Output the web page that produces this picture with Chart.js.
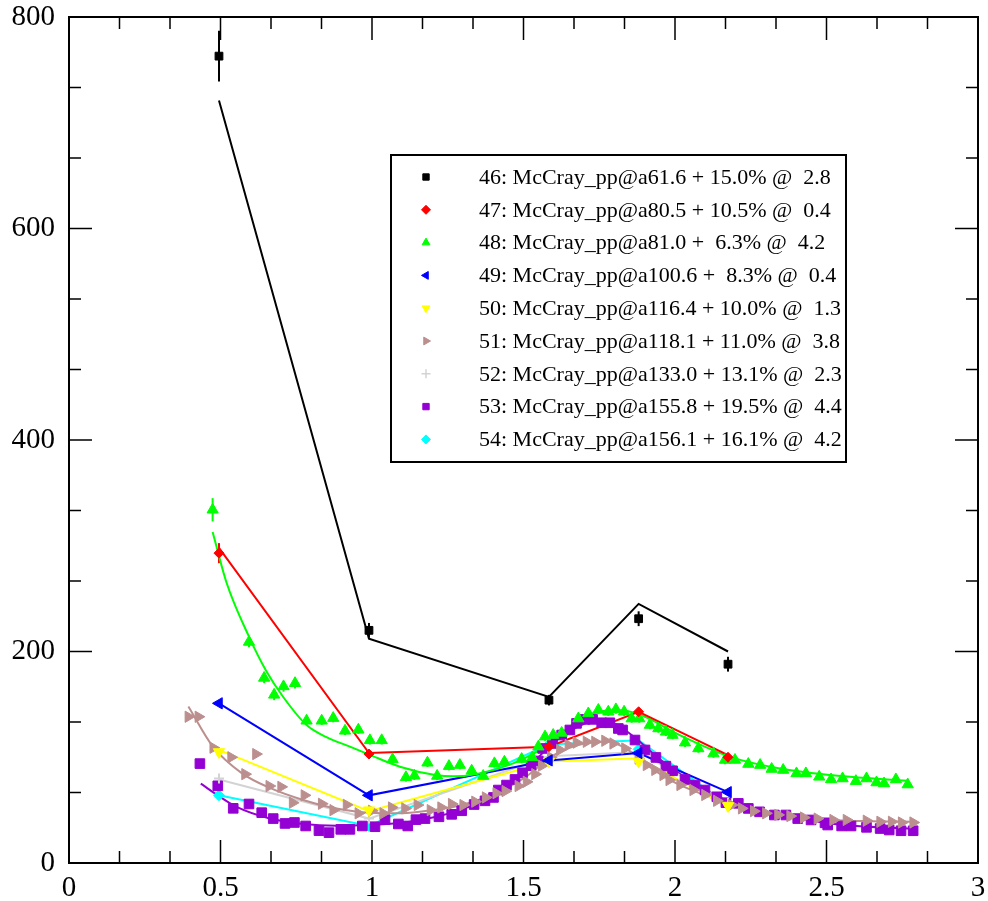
<!DOCTYPE html>
<html>
<head>
<meta charset="utf-8">
<title>McCray pp</title>
<script src="https://cdn.jsdelivr.net/npm/chart.js@4.4.1/dist/chart.umd.min.js"></script>
<style>
  html, body { margin: 0; padding: 0; background: #fff; }
  #wrap { width: 988px; height: 901px; }
</style>
</head>
<body>
<div id="wrap"><canvas id="chart" width="988" height="901"></canvas></div>
<script>
// coarse energy grid shared by the 5-point sets
const xCoarse = [0.495, 0.99, 1.584, 1.88, 2.175];

const s46Y = [763, 220, 154, 231, 188];
const s46Err = [24, 7, 5, 7, 7];
const s46Fit = [721, 212, 157, 245, 200];

const s47Y = [293, 103, 110, 143, 100];
const s47Err = [9.5, 3, 3, 3, 3];
const s47Fit = [298, 104, 110, 143, 102];

const s48X = [0.474, 0.594, 0.644, 0.677, 0.708, 0.746, 0.784, 0.834, 0.872, 0.911, 0.955, 0.993, 1.032, 1.068,
  1.112, 1.14, 1.183, 1.215, 1.254, 1.29, 1.329, 1.367, 1.404, 1.437, 1.494, 1.529, 1.549, 1.571, 1.598, 1.626,
  1.681, 1.714, 1.747, 1.78, 1.805, 1.832, 1.857, 1.882, 1.917, 1.945, 1.97, 1.992, 2.033, 2.077, 2.127, 2.165,
  2.198, 2.242, 2.281, 2.319, 2.357, 2.401, 2.432, 2.476, 2.515, 2.553, 2.597, 2.632, 2.665, 2.69, 2.729, 2.768];
const s48Y = [334, 209, 175, 159, 167, 170, 134.5, 134.5, 137, 125, 126, 116, 116, 98,
  81, 82.5, 94.8, 82.3, 91.6, 92.6, 87.2, 82.2, 94.2, 95.7, 98.3, 99.8, 110, 119.5, 121, 123,
  136.6, 141.4, 144.7, 143, 145.2, 143, 136.6, 136.6, 130.5, 127.2, 124, 121, 113.8, 108.3, 103.5, 97.4,
  97.4, 93.6, 92.6, 88.9, 87.9, 84.7, 84.7, 81.5, 79, 79.9, 77.4, 79.9, 76.1, 75.2, 79, 74.2];
const s48Err = [11, 5, 5, 5, 5, 5, 4, 4, 4, 4, 4, 4, 4, 4,
  4, 4, 4, 4, 4, 4, 4, 4, 4, 4, 4, 4, 4, 4, 4, 4,
  4, 4, 4, 4, 4, 4, 4, 4, 4, 4, 4, 4, 4, 4, 4, 4,
  3, 3, 3, 3, 3, 3, 3, 3, 3, 3, 3, 3, 3, 3, 3, 3];
const s48FitX = [0.474, 0.52, 0.594, 0.65, 0.707, 0.784, 0.85, 0.927, 0.987, 1.092, 1.213, 1.27, 1.356, 1.466,
  1.543, 1.598, 1.697, 1.807, 1.873, 2.027, 2.182, 2.346, 2.512, 2.677, 2.768];
const s48FitY = [313, 265, 214, 182, 157, 130.5, 119, 110, 103, 91, 83, 82, 84.7, 94.2,
  105, 116, 138, 144.7, 141.5, 119.4, 100.4, 89.4, 83.2, 79.4, 77.7];

const s49Y = [151, 64, 97, 104, 67];
const s49Fit = [151, 64, 97, 104, 67];

const s50Y = [105, 50, 96, 96, 54];
const s50Fit = [107, 49, 96, 99, 53];

const s51X = [0.394, 0.427, 0.476, 0.535, 0.581, 0.617, 0.661, 0.70, 0.738, 0.777, 0.834, 0.872, 0.916, 0.955,
  0.999, 1.037, 1.065, 1.109, 1.15, 1.193, 1.228, 1.263, 1.301, 1.34, 1.375, 1.41, 1.44, 1.483, 1.51, 1.538,
  1.56, 1.59, 1.62, 1.648, 1.675, 1.708, 1.736, 1.769, 1.796, 1.835, 1.879, 1.906, 1.934, 1.961, 1.981, 2.017,
  2.06, 2.099, 2.138, 2.187, 2.22, 2.26, 2.3, 2.34, 2.38, 2.425, 2.47, 2.522, 2.566, 2.632, 2.677, 2.715, 2.748, 2.786];
const s51Y = [138.3, 138.3, 109, 100, 84, 103, 72.8, 72, 57, 64, 56, 50, 55, 47,
  49.4, 47, 52.5, 51.6, 54.8, 50, 52.5, 55.8, 54.8, 58, 62, 66, 68, 72.8, 76.8, 84,
  92, 100, 106.9, 111.6, 113.8, 114.6, 114.6, 115.6, 113, 108.3, 98.8, 92.6, 88, 83.2, 78.4, 73.7,
  69, 64.3, 58.8, 54.8, 51.6, 49, 47, 45.5, 44.4, 43, 42, 40.7, 40.7, 40, 39, 39, 38.3, 38.3];
const s51FitX = [0.394, 0.475, 0.57, 0.663, 0.773, 0.883, 0.993, 1.1, 1.2, 1.3, 1.4, 1.5, 1.6, 1.7, 1.78,
  1.85, 1.93, 2.0, 2.1, 2.2, 2.35, 2.5, 2.65, 2.786];
const s51FitY = [148, 110, 85, 71, 59.6, 51.5, 47.5, 47, 50, 55, 65, 80, 102, 113, 115,
  106, 88, 76, 64, 54, 45, 41, 39.5, 39];

const s52Y = [80, 42, 100, 102, 57];
const s52Fit = [79, 42, 101, 105, 57];

const s53X = [0.432, 0.491, 0.542, 0.594, 0.636, 0.674, 0.713, 0.744, 0.781, 0.825, 0.858, 0.897, 0.927, 0.968,
  1.01, 1.043, 1.087, 1.118, 1.145, 1.175, 1.221, 1.263, 1.296, 1.337, 1.373, 1.401, 1.417, 1.444, 1.472, 1.497,
  1.525, 1.549, 1.563, 1.596, 1.626, 1.653, 1.675, 1.703, 1.728, 1.758, 1.785, 1.813, 1.827, 1.868, 1.901, 1.937,
  1.97, 1.992, 2.033, 2.066, 2.099, 2.138, 2.168, 2.209, 2.242, 2.279, 2.328, 2.366, 2.405, 2.449, 2.495, 2.504,
  2.55, 2.581, 2.632, 2.677, 2.707, 2.746, 2.786];
const s53Y = [94, 73, 51.7, 55.8, 47.6, 42, 37.4, 38.3, 35, 30.6, 28.7, 31.8, 31.8, 35,
  34.3, 41, 36.9, 35, 41, 42, 43.7, 46, 49.4, 55.3, 58.8, 62, 69, 73.7, 79, 85.3,
  92, 96.5, 108.3, 113, 121, 125.8, 132, 135.8, 135.8, 132.6, 132.6, 127.2, 125.8, 116.3, 106.9, 99.8,
  91.6, 87.2, 79, 73.7, 69, 62.6, 57, 56.4, 51.6, 48.4, 45.4, 45.4, 42, 40.7, 38, 35.9,
  35, 35, 33.7, 32.6, 31.2, 30.5, 30.5];
const s53FitX = [0.435, 0.498, 0.553, 0.663, 0.773, 0.883, 0.993, 1.1, 1.2, 1.3, 1.4, 1.5, 1.6, 1.68, 1.745,
  1.8, 1.87, 1.95, 2.05, 2.18, 2.346, 2.512, 2.677, 2.786];
const s53FitY = [75, 62.6, 53, 42, 36.9, 35.3, 36, 38, 43, 51, 64, 86, 114, 129, 135,
  132, 118, 98, 78, 58, 45.4, 37.4, 33.7, 32.6];

const s54Y = [64, 35, 112, 107.5, 55];
const s54Fit = [64, 35, 112, 116, 55];

function pts(xs, ys) {
  return xs.map((x, i) => ({ x: x, y: ys[i] }));
}

const series = [
  { label: '46: McCray_pp@a61.6 + 15.0% @  2.8', color: '#000000', style: 'rect', rot: 0, r: 5.5,
    x: xCoarse, y: s46Y, err: s46Err, fitX: xCoarse, fitY: s46Fit, smooth: false },
  { label: '47: McCray_pp@a80.5 + 10.5% @  0.4', color: '#ff0000', style: 'rectRot', rot: 0, r: 5,
    x: xCoarse, y: s47Y, err: s47Err, fitX: xCoarse, fitY: s47Fit, smooth: false },
  { label: '48: McCray_pp@a81.0 +  6.3% @  4.2', color: '#00ff00', style: 'triangle', rot: 0, r: 6.5,
    x: s48X, y: s48Y, err: s48Err, fitX: s48FitX, fitY: s48FitY, smooth: true },
  { label: '49: McCray_pp@a100.6 +  8.3% @  0.4', color: '#0000ff', style: 'triangle', rot: -90, r: 6.5,
    x: xCoarse, y: s49Y, err: null, fitX: xCoarse, fitY: s49Fit, smooth: false },
  { label: '50: McCray_pp@a116.4 + 10.0% @  1.3', color: '#ffff00', style: 'triangle', rot: 180, r: 6.5,
    x: xCoarse, y: s50Y, err: null, fitX: xCoarse, fitY: s50Fit, smooth: false },
  { label: '51: McCray_pp@a118.1 + 11.0% @  3.8', color: '#bc8f8f', style: 'triangle', rot: 90, r: 6.5,
    x: s51X, y: s51Y, err: null, fitX: s51FitX, fitY: s51FitY, smooth: true },
  { label: '52: McCray_pp@a133.0 + 13.1% @  2.3', color: '#d3d3d3', style: 'cross', rot: 0, r: 5,
    x: xCoarse, y: s52Y, err: null, fitX: xCoarse, fitY: s52Fit, smooth: false },
  { label: '53: McCray_pp@a155.8 + 19.5% @  4.4', color: '#9400d3', style: 'rect', rot: 0, r: 6.8,
    x: s53X, y: s53Y, err: null, fitX: s53FitX, fitY: s53FitY, smooth: true },
  { label: '54: McCray_pp@a156.1 + 16.1% @  4.2', color: '#00ffff', style: 'rectRot', rot: 0, r: 5.5,
    x: xCoarse, y: s54Y, err: null, fitX: xCoarse, fitY: s54Fit, smooth: false }
];

const datasets = [];
series.forEach(s => {
  datasets.push({
    label: s.label,
    data: pts(s.x, s.y),
    errors: s.err,
    showLine: false,
    pointStyle: s.style,
    pointRotation: s.rot,
    pointRadius: s.r,
    pointBackgroundColor: s.color,
    pointBorderColor: s.color,
    pointBorderWidth: s.style === 'cross' ? 2 : 1,
    order: 1
  });
  datasets.push({
    label: s.label + ' fit',
    data: pts(s.fitX, s.fitY),
    showLine: true,
    pointRadius: 0,
    borderColor: s.color,
    borderWidth: 2,
    cubicInterpolationMode: s.smooth ? 'monotone' : 'default',
    order: 2
  });
});

// frame, inward ticks, error bars and the boxed legend
const decor = {
  id: 'decor',
  beforeDatasetsDraw(chart) {
    const ctx = chart.ctx;
    const xs = chart.scales.x, ys = chart.scales.y;
    ctx.save();
    ctx.lineWidth = 2;
    chart.data.datasets.forEach(ds => {
      if (!ds.errors) return;
      ctx.strokeStyle = ds.pointBorderColor;
      ds.data.forEach((p, i) => {
        const e = ds.errors[i];
        const px = xs.getPixelForValue(p.x);
        ctx.beginPath();
        ctx.moveTo(px, ys.getPixelForValue(p.y - e));
        ctx.lineTo(px, ys.getPixelForValue(p.y + e));
        ctx.stroke();
      });
    });
    ctx.restore();
  },
  afterDraw(chart) {
    const ctx = chart.ctx;
    const a = chart.chartArea;
    const xs = chart.scales.x, ys = chart.scales.y;
    ctx.save();
    ctx.strokeStyle = '#000';
    ctx.lineWidth = 2;
    ctx.strokeRect(a.left, a.top, a.right - a.left, a.bottom - a.top);

    ctx.lineWidth = 1.5;
    ctx.beginPath();
    for (let i = 0; i <= 18; i++) {
      const px = xs.getPixelForValue(i * 0.5 / 3);
      const len = i % 3 === 0 ? 23 : 12;
      ctx.moveTo(px, a.bottom); ctx.lineTo(px, a.bottom - len);
      ctx.moveTo(px, a.top); ctx.lineTo(px, a.top + len);
    }
    for (let i = 0; i <= 12; i++) {
      const py = ys.getPixelForValue(i * 200 / 3);
      const len = i % 3 === 0 ? 23 : 12;
      ctx.moveTo(a.left, py); ctx.lineTo(a.left + len, py);
      ctx.moveTo(a.right, py); ctx.lineTo(a.right - len, py);
    }
    ctx.stroke();

    // legend box
    const bx = 391, by = 155, bw = 455, bh = 307;
    ctx.fillStyle = '#fff';
    ctx.fillRect(bx, by, bw, bh);
    ctx.lineWidth = 2;
    ctx.strokeRect(bx, by, bw, bh);
    ctx.font = '22px "Liberation Serif", "Times New Roman", serif';
    ctx.textBaseline = 'middle';
    series.forEach((s, i) => {
      const y = 177 + i * 32.8;
      ctx.fillStyle = s.color;
      ctx.strokeStyle = s.color;
      ctx.lineWidth = s.style === 'cross' ? 1.5 : 1;
      Chart.helpers.drawPoint(ctx, { pointStyle: s.style, rotation: s.rot, radius: 4.5,
        borderWidth: ctx.lineWidth }, 426, y);
      ctx.fillStyle = '#000';
      ctx.fillText(s.label, 479, y + 1);
    });
    ctx.restore();
  }
};

const tickFont = { family: '"Liberation Serif", "Times New Roman", serif', size: 29 };

new Chart(document.getElementById('chart').getContext('2d'), {
  type: 'scatter',
  data: { datasets: datasets },
  options: {
    responsive: false,
    animation: false,
    layout: { padding: { top: 17, right: 10, left: 0, bottom: 0 } },
    plugins: { legend: { display: false }, tooltip: { enabled: false } },
    scales: {
      x: {
        type: 'linear', min: 0, max: 3,
        grid: { display: false, drawTicks: false },
        border: { display: false },
        ticks: { stepSize: 0.5, color: '#000', font: tickFont, padding: 8, maxRotation: 0, autoSkip: false,
          callback: v => String(v) },
        afterFit: s => { s.height = 38; s.paddingLeft = 0; s.paddingRight = 0; }
      },
      y: {
        type: 'linear', min: 0, max: 800,
        grid: { display: false, drawTicks: false },
        border: { display: false },
        ticks: { stepSize: 200, color: '#000', font: tickFont, padding: 14, callback: v => String(v) },
        afterFit: s => { s.width = 69; s.paddingTop = 0; s.paddingBottom = 0; }
      }
    }
  },
  plugins: [decor]
});
</script>
</body>
</html>
